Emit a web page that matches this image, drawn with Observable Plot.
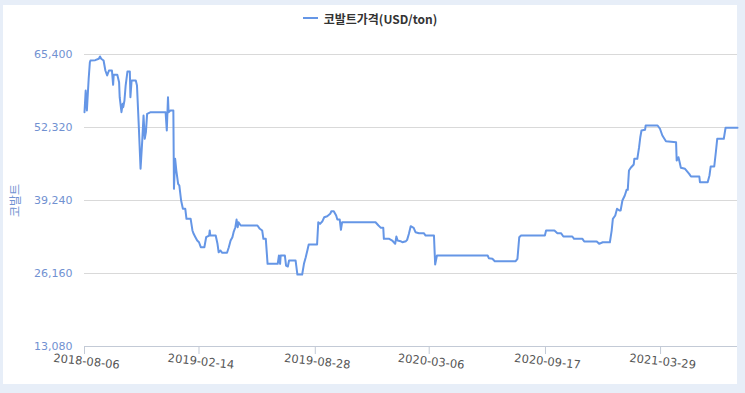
<!DOCTYPE html>
<html>
<head>
<meta charset="utf-8">
<script src="https://cdn.jsdelivr.net/npm/d3@7"></script>
<script src="https://cdn.jsdelivr.net/npm/@observablehq/plot@0.6"></script>
<style>
  html, body { margin: 0; padding: 0; }
  body { width: 745px; height: 393px; background: #e7eef8; position: relative; overflow: hidden; }
  #panel { position: absolute; left: 3px; top: 5px; width: 734px; height: 379px; background: #fff; }
  #legend { height: 26px; display: flex; justify-content: center; align-items: center;
            font-family: "Noto Sans CJK KR", sans-serif; font-weight: bold; font-size: 12px; color: #333; }
  #legend .sw { width: 15px; height: 2px; background: #6596e6; margin-right: 6px; }
  #chart svg { display: block; }
</style>
</head>
<body>
<div id="panel">
  <div id="legend"><span class="sw"></span><span id="legendText"></span></div>
  <div id="chart"></div>
</div>
<script>
const seriesName = "코발트가격(USD/ton)";
const yTitle = "코발트";

const dates = [
"2018-08-06","2018-08-08","2018-08-10","2018-08-13","2018-08-15","2018-08-16","2018-08-24","2018-08-30","2018-09-01","2018-09-03",
"2018-09-07","2018-09-10","2018-09-13","2018-09-16","2018-09-21","2018-09-23","2018-09-24","2018-09-30","2018-10-03","2018-10-04",
"2018-10-07","2018-10-09","2018-10-10","2018-10-12","2018-10-14","2018-10-17","2018-10-21","2018-10-22","2018-10-24","2018-10-31",
"2018-11-02","2018-11-05","2018-11-08","2018-11-11","2018-11-13","2018-11-15","2018-11-17","2018-11-19","2018-11-25","2018-12-20",
"2018-12-22","2018-12-24","2018-12-25","2018-12-28","2019-01-02","2019-01-03","2019-01-05","2019-01-07","2019-01-10","2019-01-12",
"2019-01-15","2019-01-18","2019-01-22","2019-01-24","2019-01-31","2019-02-03","2019-02-05","2019-02-08","2019-02-11","2019-02-14",
"2019-02-17","2019-02-23","2019-02-26","2019-03-03","2019-03-04","2019-03-05","2019-03-14","2019-03-17","2019-03-19","2019-03-22",
"2019-03-25","2019-04-02","2019-04-05","2019-04-08","2019-04-11","2019-04-13","2019-04-16","2019-04-18","2019-04-20","2019-04-21",
"2019-04-25","2019-05-23","2019-05-27","2019-05-31","2019-06-02","2019-06-06","2019-06-09","2019-06-26","2019-06-28","2019-06-30",
"2019-07-01","2019-07-08","2019-07-10","2019-07-13","2019-07-15","2019-07-26","2019-07-29","2019-08-06","2019-08-09","2019-08-12",
"2019-08-15","2019-08-17","2019-08-31","2019-09-02","2019-09-05","2019-09-09","2019-09-12","2019-09-17","2019-09-22","2019-09-24",
"2019-09-28","2019-10-02","2019-10-04","2019-10-08","2019-10-10","2019-10-12","2019-12-07","2019-12-12","2019-12-16","2019-12-20",
"2019-12-21","2019-12-30","2020-01-04","2020-01-09","2020-01-11","2020-01-13","2020-01-18","2020-01-21","2020-01-27","2020-01-29",
"2020-02-01","2020-02-04","2020-02-09","2020-02-12","2020-02-18","2020-02-26","2020-02-29","2020-03-14","2020-03-16","2020-03-19",
"2020-03-21","2020-06-12","2020-06-14","2020-06-20","2020-06-24","2020-07-29","2020-08-01","2020-08-04","2020-08-07","2020-09-16",
"2020-09-18","2020-10-02","2020-10-07","2020-10-13","2020-10-17","2020-11-01","2020-11-04","2020-11-18","2020-11-21","2020-12-12",
"2020-12-16","2020-12-22","2021-01-03","2021-01-06","2021-01-08","2021-01-12","2021-01-15","2021-01-19","2021-01-21","2021-01-24",
"2021-01-28","2021-01-31","2021-02-02","2021-02-04","2021-02-07","2021-02-12","2021-02-13","2021-02-18","2021-02-21","2021-02-23",
"2021-02-25","2021-03-03","2021-03-04","2021-03-24","2021-03-28","2021-04-01","2021-04-07","2021-04-24","2021-04-25","2021-04-28",
"2021-04-30","2021-05-02","2021-05-09","2021-05-16","2021-05-19","2021-06-02","2021-06-03","2021-06-16","2021-06-19","2021-06-21",
"2021-06-27","2021-06-30","2021-07-02","2021-07-13","2021-07-16","2021-08-05"
];

const prices = [
55060,58950,55370,61050,64020,64330,64380,64630,65040,64630,
64330,62530,61640,62530,62530,59970,61760,61760,60440,57750,
55060,56570,55960,57160,59840,62350,62350,57750,60740,60740,
59840,52680,44920,50290,54470,50290,51480,54770,55060,55060,
51780,57750,55060,55370,55370,41330,46710,44610,42230,41930,
39240,37750,37750,35960,35960,33870,33270,32660,32070,31760,
30870,30870,32660,32960,33860,32960,32960,31480,29970,30280,
29870,29870,30870,32070,32660,33560,34450,35830,34450,35350,
34760,34760,34170,33860,32370,32370,27890,27890,29380,27890,
29380,29380,27590,27410,28480,28480,25980,25980,27890,29080,
30400,31350,31350,35350,35060,35530,36240,36420,36850,37320,
37320,36550,35830,35830,33990,35350,35350,34760,34340,34340,
32370,32370,32070,31480,32790,32070,31950,31760,31950,32190,
33270,34630,34340,33560,33380,33380,32960,32960,27770,29380,
29380,29380,28900,28790,28360,28360,28790,32660,32960,32960,
33860,33860,33380,33380,32790,32790,32370,32370,31890,31890,
31480,31760,31760,33860,35960,36550,37750,37450,37450,39240,
40130,41150,41150,44610,45100,45690,46710,46710,48790,50580,
51780,51910,52680,52680,52090,50880,49860,49680,46400,47000,
46100,45100,44920,44020,43540,43540,42520,42520,43720,45330,
45330,48200,50290,50290,52270,52270
];

const xTickLabels = ["2018-08-06","2019-02-14","2019-08-28","2020-03-06","2020-09-17","2021-03-29"];
const yTicks = [13080, 26160, 39240, 52320, 65400];
const xDomain = ["2018-08-06", "2021-08-05"];

const parse = d3.utcParse("%Y-%m-%d");
const data = dates.map((d, i) => ({date: parse(d), price: prices[i]}));
const xTicks = xTickLabels.map(parse);
const fmtDate = d3.utcFormat("%Y-%m-%d");

document.getElementById("legendText").textContent = seriesName;

const lineColor = "#6596e6";
const labelBlue = "#7191d1";

const chart = Plot.plot({
  width: 734,
  height: 353,
  marginLeft: 81,
  marginRight: 0,
  marginTop: 23,
  marginBottom: 38,
  style: {fontFamily: "DejaVu Sans, sans-serif", background: "#fff", overflow: "visible"},
  x: {type: "utc", domain: xDomain.map(parse)},
  y: {domain: [yTicks[0], yTicks[yTicks.length - 1]]},
  marks: [
    Plot.gridY(yTicks.slice(1), {stroke: "#d9d9d9", strokeOpacity: 1}),
    Plot.ruleY([yTicks[0]], {stroke: "#c3cad6"}),
    Plot.axisY(yTicks, {
      tickSize: 0, tickPadding: 12, tickFormat: d3.format(","),
      fill: labelBlue, fontSize: 11, label: null
    }),
    Plot.axisX(xTicks, {
      tickSize: 8, tickFormat: () => "",
      stroke: "#c3cad6", label: null
    }),
    Plot.text(xTicks, {
      x: (d) => d, y: () => yTicks[0], text: (d) => fmtDate(d),
      rotate: 6, textAnchor: "middle", lineAnchor: "middle",
      dx: 2, dy: 15, fill: "#555", fontSize: 11.5
    }),
    Plot.text([yTitle], {
      frameAnchor: "left", textAnchor: "middle", rotate: -90, dx: -68,
      fill: labelBlue, fontSize: 12, fontFamily: "Noto Sans CJK KR"
    }),
    Plot.line(data, {x: "date", y: "price", stroke: lineColor, strokeWidth: 2, strokeLinejoin: "round"})
  ]
});

document.getElementById("chart").appendChild(chart);
</script>
</body>
</html>
